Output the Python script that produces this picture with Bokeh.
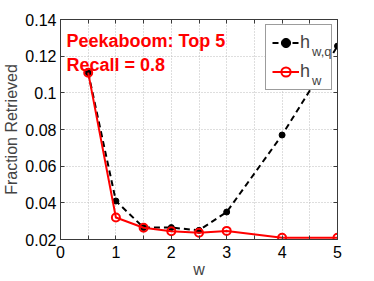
from bokeh.plotting import figure
from bokeh.models import (Range1d, FixedTicker, LinearAxis, Legend, LegendItem, Label)
from bokeh.embed import file_html
from bokeh.resources import INLINE

# data
w = [0.5, 1, 1.5, 2, 2.5, 3, 4, 5]
h_wq = [0.111, 0.041, 0.0265, 0.0265, 0.025, 0.035, 0.077, 0.1255]
h_w = [0.111, 0.032, 0.0264, 0.0245, 0.0237, 0.0247, 0.021, 0.021]
x_ticks = [0, 1, 2, 3, 4, 5]
x_minor_ticks = [0.5, 1.5, 2.5, 3.5, 4.5]
y_ticks = [0.02, 0.04, 0.06, 0.08, 0.10, 0.12, 0.14]
y_tick_labels = ["0.02", "0.04", "0.06", "0.08", "0.1", "0.12", "0.14"]
title_lines = ["Peekaboom: Top 5", "Recall = 0.8"]
legend_subscripts = ["w,q", "w"]

FONT = "Liberation Sans"
AX = "#3a3a3a"
FW, FH = 277, 220

p = figure(frame_width=FW, frame_height=FH,
           x_range=Range1d(0, 5), y_range=Range1d(0.02, 0.14),
           output_backend="svg", toolbar_location=None,
           min_border_left=54, min_border_right=27, min_border_top=19, min_border_bottom=30)
p.background_fill_color = "white"
p.border_fill_color = "white"
p.outline_line_color = AX
p.outline_line_width = 1

for ax in (p.xaxis[0], p.yaxis[0]):
    ax.major_label_text_font = FONT
    ax.major_label_text_font_size = "16px"
    ax.major_label_text_color = "black"
    ax.axis_label_text_font = FONT
    ax.axis_label_text_font_size = "16px"
    ax.axis_label_text_font_style = "normal"
    ax.axis_line_color = AX
    ax.major_tick_line_color = AX
    ax.minor_tick_line_color = AX
    ax.major_tick_in = 4
    ax.major_tick_out = 0
    ax.minor_tick_in = 4
    ax.minor_tick_out = 0

p.xaxis.ticker = FixedTicker(ticks=x_ticks, minor_ticks=x_minor_ticks)
p.xaxis.axis_label = "w"
p.xaxis.axis_label_standoff = 0
p.xaxis.major_label_standoff = 6
p.yaxis.ticker = FixedTicker(ticks=y_ticks)
p.yaxis.major_label_overrides = dict(zip(y_ticks, y_tick_labels))
p.yaxis.axis_label = "Fraction Retrieved"
p.yaxis.axis_label_standoff = 2
p.yaxis.major_label_standoff = 4

for loc, tk in (("right", FixedTicker(ticks=y_ticks)),
                ("above", FixedTicker(ticks=x_ticks, minor_ticks=x_minor_ticks))):
    a = LinearAxis(ticker=tk, major_label_text_font_size="1px", major_label_text_color=None,
                   major_tick_in=4, major_tick_out=0, minor_tick_in=4, minor_tick_out=0,
                   minor_tick_line_color=AX,
                   axis_line_color=AX, major_tick_line_color=AX, major_label_standoff=0)
    p.add_layout(a, loc)

p.xgrid.ticker = FixedTicker(ticks=sorted(x_ticks + x_minor_ticks))
p.xgrid.grid_line_color = "#bdbdbd"
p.xgrid.grid_line_dash = "1 2"
p.ygrid.grid_line_color = "#bdbdbd"
p.ygrid.grid_line_dash = "1 2"

l1 = p.line(w, h_wq, line_color="black", line_width=2, line_dash="6 4")
s1 = p.scatter(w, h_wq, size=6, color="black")
l2 = p.line(w, h_w, line_color="#ff0000", line_width=2)
s2 = p.scatter(w, h_w, size=8, fill_color=None, line_color="#ff0000", line_width=2)

legend = Legend(items=[LegendItem(label="h", renderers=[l1, s1]),
                       LegendItem(label="h", renderers=[l2, s2])],
                location="top_right", margin=5, padding=6, spacing=6,
                glyph_width=27, glyph_height=23, label_standoff=1, label_width=25,
                label_height=23,
                label_text_font=FONT, label_text_font_size="18px",
                border_line_color=AX, border_line_width=1, background_fill_alpha=1)
p.add_layout(legend)

# subscripts of the legend labels, drawn as a second (glyph-less) legend on top
sub_legend = Legend(items=[LegendItem(label=t, renderers=[]) for t in legend_subscripts],
                    location=(252, FH - 69), margin=0, padding=0, spacing=14,
                    glyph_width=0, glyph_height=13, label_standoff=0, label_width=10,
                    label_height=13, label_text_font=FONT, label_text_font_size="13px",
                    label_text_baseline="alphabetic",
                    border_line_color=None, background_fill_alpha=0)
p.add_layout(sub_legend)

for txt, dy in zip(title_lines, [21, 45]):
    p.add_layout(Label(x=6, y=FH - dy, x_units="screen", y_units="screen", text=txt,
                       text_font=FONT, text_font_size="18px", text_font_style="bold",
                       text_color="#ff0000", text_baseline="alphabetic"))

open("out.html", "w").write(file_html(p, INLINE))
